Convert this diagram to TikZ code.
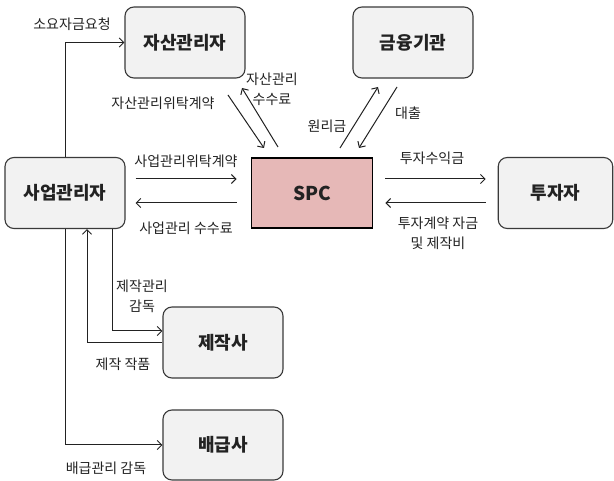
\documentclass[tikz,border=0pt]{standalone}
\usepackage{fontspec}
\setmainfont{Noto Sans CJK KR}
\usetikzlibrary{arrows.meta}
\definecolor{boxfill}{HTML}{F2F2F2}
\definecolor{boxline}{HTML}{3A3A3A}
\definecolor{spcfill}{HTML}{E6B8B7}
\definecolor{txt}{HTML}{222222}
\begin{document}
\begin{tikzpicture}[x=1pt,y=-1pt,
  entity/.style={draw=boxline,line width=1.1pt,fill=boxfill,rounded corners=9pt,
    minimum width=120pt,minimum height=71pt,inner sep=0pt,
    font=\fontsize{18}{20}\selectfont\bfseries,text=txt},
  spcbox/.style={draw=black,line width=1.8pt,fill=spcfill,
    minimum width=121pt,minimum height=70pt,inner sep=0pt,
    font=\fontsize{19}{21}\selectfont\bfseries,text=txt},
  lab/.style={font=\fontsize{14}{20}\selectfont,text=txt,inner sep=1pt,align=center},
  arr/.style={line width=1pt,draw=txt,-{Straight Barb[length=4.5pt,width=9pt,line width=1pt]}},
  ln/.style={line width=1pt,draw=txt}]
\useasboundingbox (0,0) rectangle (614,481);
\fill[white] (0,0) rectangle (614,481);

\node[entity] (am) at (185,42.5) {자산관리자};
\node[entity] (fin) at (413,42.5) {금융기관};
\node[entity] (bm) at (65,193) {사업관리자};
\node[spcbox] (spc) at (312,193) {SPC};
\node[entity,minimum width=114.5pt] (inv) at (555.5,193) {투자자};
\node[entity] (prod) at (223,342.5) {제작사};
\node[entity,minimum height=70pt] (dist) at (223,445) {배급사};

% 사업관리자 -> 자산관리자
\draw[arr] (bm.north) |- (am.west);
\node[lab] (l1) at (72,24) {소요자금요청};

% 사업관리자 -> 배급사
\draw[arr] (bm.south) |- (dist.west);
\node[lab] (l2) at (106,468) {배급관리 감독};

% 제작사 -> 사업관리자
\draw[arr] (prod.west) -| ([xshift=22pt]bm.south);
\node[lab] (l3) at (123,364) {제작 작품};

% 사업관리자 -> 제작사
\draw[arr] ([xshift=47pt]bm.south) |- ([yshift=11.5pt]prod.west);
\node[lab] (l4) at (142,296) {제작관리\\감독};

% 사업관리자 <-> SPC
\draw[arr] ([xshift=10pt,yshift=14pt]bm.east) -- ([xshift=-14pt,yshift=14pt]spc.west);
\draw[arr] ([xshift=-14pt,yshift=-10pt]spc.west) -- ([xshift=10pt,yshift=-10pt]bm.east);
\node[lab] (l5) at (186,161) {사업관리위탁계약};
\node[lab] (l6) at (186,228) {사업관리 수수료};

% SPC <-> 투자자
\draw[arr] ([xshift=12pt,yshift=14pt]spc.east) -- ([xshift=-12pt,yshift=14pt]inv.west);
\draw[arr] ([xshift=-12pt,yshift=-10pt]inv.west) -- ([xshift=12pt,yshift=-10pt]spc.east);
\node[lab] (l7) at (432,158) {투자수익금};
\node[lab] (l8) at (438,233) {투자계약 자금\\및 제작비};

% 자산관리자 <-> SPC
\coordinate (a1s) at (228,95);
\coordinate (a1e) at (264,148);
\coordinate (a2s) at (278,147);
\coordinate (a2e) at (242,88);
\draw[arr] (a1s) -- (a1e);
\draw[arr] (a2s) -- (a2e);
\node[lab] (l9) at (163,103) {자산관리위탁계약};
\node[lab] (l10) at (272,89) {자산관리\\수수료};

% SPC <-> 금융기관
\coordinate (f1s) at (340,148);
\coordinate (f1e) at (378,87);
\coordinate (f2s) at (397,87);
\coordinate (f2e) at (359,148);
\draw[arr] (f1s) -- (f1e);
\draw[arr] (f2s) -- (f2e);
\node[lab] (l11) at (327,126) {원리금};
\node[lab] (l12) at (408,113) {대출};
\end{tikzpicture}
\end{document}
